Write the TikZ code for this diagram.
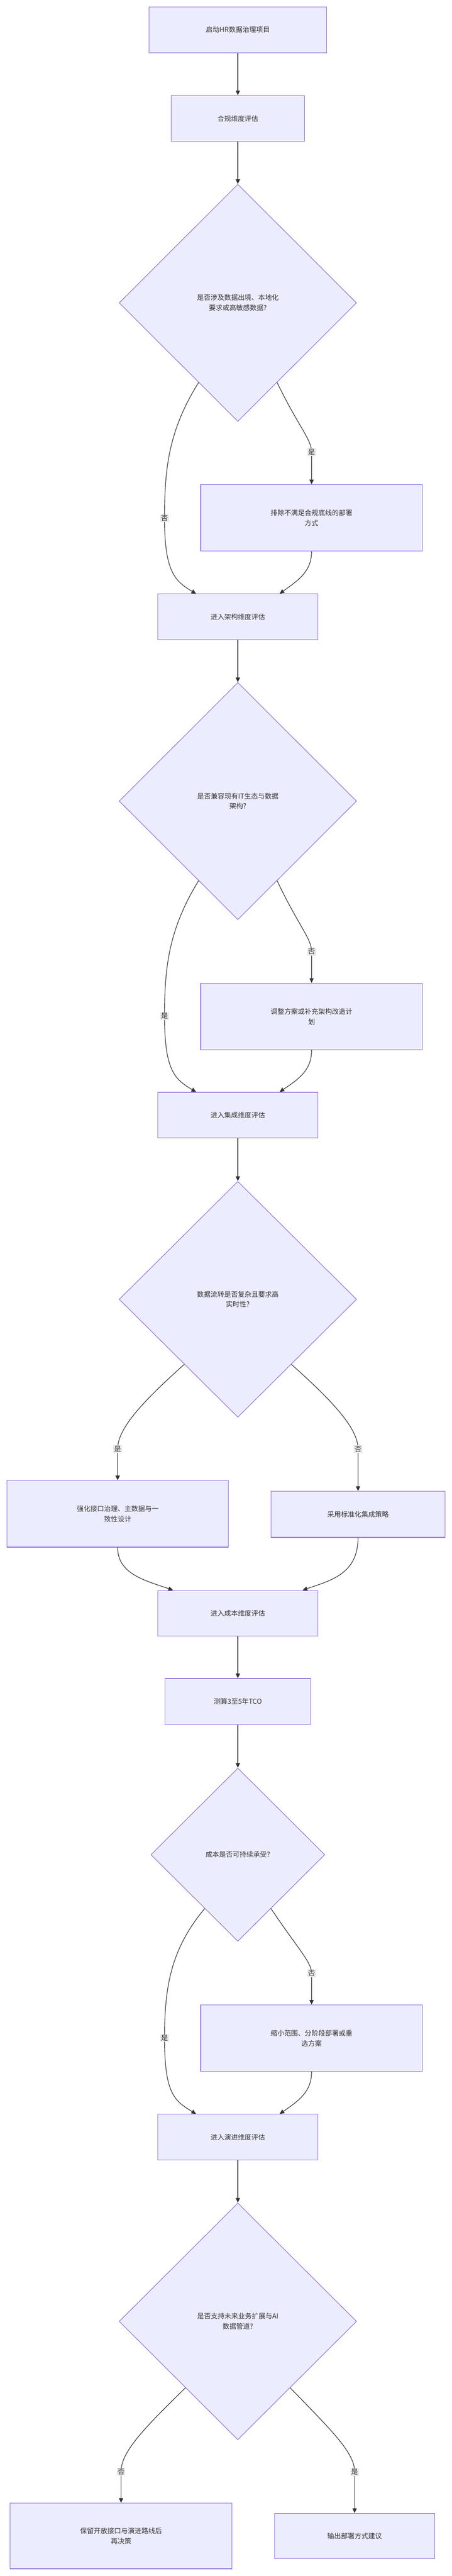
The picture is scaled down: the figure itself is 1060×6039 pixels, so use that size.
\documentclass[tikz,border=0pt]{standalone}
\usepackage{fontspec}
\setmainfont{Noto Sans CJK SC}
\usetikzlibrary{shapes.geometric,arrows.meta,calc}
\definecolor{nfill}{HTML}{ECECFF}
\definecolor{nborder}{HTML}{9370DB}
\definecolor{ink}{HTML}{333333}
\definecolor{lblbg}{HTML}{E8E8E8}
\begin{document}
\begin{tikzpicture}[x=1pt,y=-1pt,
  every node/.style={font=\fontsize{16}{24}\selectfont, text=ink},
  box/.style={draw=nborder, fill=nfill, line width=1.3pt, align=center, inner sep=0pt},
  dia/.style={diamond, draw=nborder, fill=nfill, line width=1.3pt, align=center, inner sep=0pt},
  lbl/.style={fill=lblbg, inner sep=2pt},
  edge/.style={draw=ink, line width=1.4pt, -{Triangle[length=11pt,width=10pt]}}]
\useasboundingbox (0,0) rectangle (1060,6039);
\fill[white] (0,0) rectangle (1060,6039);
% boxes: helper positions
\node[box, minimum width=416pt, minimum height=108pt] (start) at (558,70) {启动HR数据治理项目};
\node[box, minimum width=312pt, minimum height=108pt] (comp) at (558,278) {合规维度评估};
\node[dia, minimum width=557pt, minimum height=556pt] (d1) at (558,710) {};
\node at (558,710) [align=center] {是否涉及数据出境、本地化\\要求或高敏感数据?};
\node[box, minimum width=520pt, minimum height=156pt] (r1) at (731,1214) {排除不满足合规底线的部署\\方式};
\node[box, minimum width=376pt, minimum height=107pt] (arch) at (558,1446) {进入架构维度评估};
\node[dia, minimum width=557pt, minimum height=556pt] (d2) at (558,1878) {};
\node at (558,1878) [align=center] {是否兼容现有IT生态与数据\\架构?};
\node[box, minimum width=520pt, minimum height=156pt] (r2) at (731,2383) {调整方案或补充架构改造计\\划};
\node[box, minimum width=376pt, minimum height=107pt] (integ) at (558,2614) {进入集成维度评估};
\node[dia, minimum width=557pt, minimum height=553pt] (d3) at (558,3046) {};
\node at (558,3046) [align=center] {数据流转是否复杂且要求高\\实时性?};
\node[box, minimum width=520pt, minimum height=156pt] (l3) at (276,3549) {强化接口治理、主数据与一\\致性设计};
\node[box, minimum width=409pt, minimum height=108pt] (r3) at (840,3550) {采用标准化集成策略};
\node[box, minimum width=376pt, minimum height=107pt] (cost) at (558,3782) {进入成本维度评估};
\node[box, minimum width=342pt, minimum height=108pt] (tco) at (558,3989) {测算3至5年TCO};
\node[dia, minimum width=408pt, minimum height=406pt] (d4) at (558,4348) {};
\node at (558,4348) {成本是否可持续承受?};
\node[box, minimum width=520pt, minimum height=156pt] (r4) at (731,4778) {缩小范围、分阶段部署或重\\选方案};
\node[box, minimum width=376pt, minimum height=107pt] (evo) at (558,5010) {进入演进维度评估};
\node[dia, minimum width=557pt, minimum height=555pt] (d5) at (558,5442) {};
\node at (558,5442) [align=center] {是否支持未来业务扩展与AI\\数据管道?};
\node[box, minimum width=520pt, minimum height=154pt] (l5) at (284,5945) {保留开放接口与演进路线后\\再决策};
\node[box, minimum width=376pt, minimum height=106pt] (r5) at (832,5945) {输出部署方式建议};
% label positions
\coordinate (c1n) at (386,1215); \coordinate (c1y) at (731,1060);
\coordinate (c2y) at (386,2382); \coordinate (c2n) at (731,2231);
\coordinate (c3y) at (276,3397); \coordinate (c3n) at (840,3397);
\coordinate (c4y) at (386,4778); \coordinate (c4n) at (731,4626);
\coordinate (c5n) at (284,5795); \coordinate (c5y) at (832,5795);
% straight edges
\draw[edge] (start) -- (comp);
\draw[edge] (comp) -- (d1);
\draw[edge] (arch) -- (d2);
\draw[edge] (integ) -- (d3);
\draw[edge] (cost) -- (tco);
\draw[edge] (tco) -- (d4);
\draw[edge] (evo) -- (d5);
% decision 1
\draw[edge] ($(d1.south)!0.33!(d1.west)$) .. controls (395,1010) and (386,1100) .. (c1n) .. controls (386,1340) and (410,1362) .. ($(arch.north)+(-98,0)$);
\draw[edge] ($(d1.south)!0.33!(d1.east)$) .. controls (700,1000) and (731,1030) .. (c1y) -- (r1.north);
\draw[edge] (r1.south) .. controls (731,1340) and (700,1360) .. ($(arch.north)+(98,0)$);
% decision 2
\draw[edge] ($(d2.south)!0.33!(d2.west)$) .. controls (395,2180) and (386,2270) .. (c2y) .. controls (386,2510) and (410,2530) .. ($(integ.north)+(-98,0)$);
\draw[edge] ($(d2.south)!0.33!(d2.east)$) .. controls (700,2170) and (731,2200) .. (c2n) -- (r2.north);
\draw[edge] (r2.south) .. controls (731,2510) and (700,2530) .. ($(integ.north)+(98,0)$);
% decision 3
\draw[edge] ($(d3.south)!0.45!(d3.west)$) .. controls (330,3290) and (276,3350) .. (c3y) -- (l3.north);
\draw[edge] ($(d3.south)!0.45!(d3.east)$) .. controls (786,3290) and (840,3350) .. (c3n) -- (r3.north);
\draw[edge] (l3.south) .. controls (276,3690) and (340,3705) .. ($(cost.north)+(-152,0)$);
\draw[edge] (r3.south) .. controls (840,3690) and (776,3705) .. ($(cost.north)+(152,0)$);
% decision 4
\draw[edge] ($(d4.south)!0.38!(d4.west)$) .. controls (400,4570) and (386,4660) .. (c4y) .. controls (386,4910) and (410,4925) .. ($(evo.north)+(-98,0)$);
\draw[edge] ($(d4.south)!0.38!(d4.east)$) .. controls (700,4570) and (731,4600) .. (c4n) -- (r4.north);
\draw[edge] (r4.south) .. controls (731,4905) and (700,4925) .. ($(evo.north)+(98,0)$);
% decision 5
\draw[edge] ($(d5.south)!0.44!(d5.west)$) .. controls (330,5700) and (284,5750) .. (c5n) -- (l5.north);
\draw[edge] ($(d5.south)!0.44!(d5.east)$) .. controls (780,5700) and (832,5750) .. (c5y) -- (r5.north);
% edge labels
\node[lbl] (t1n) at (c1n) {否}; \node[lbl] (t1y) at (c1y) {是};
\node[lbl] (t2y) at (c2y) {是}; \node[lbl] (t2n) at (c2n) {否};
\node[lbl] (t3y) at (c3y) {是}; \node[lbl] (t3n) at (c3n) {否};
\node[lbl] (t4y) at (c4y) {是}; \node[lbl] (t4n) at (c4n) {否};
\node[lbl] (t5n) at (c5n) {否}; \node[lbl] (t5y) at (c5y) {是};
\end{tikzpicture}
\end{document}
